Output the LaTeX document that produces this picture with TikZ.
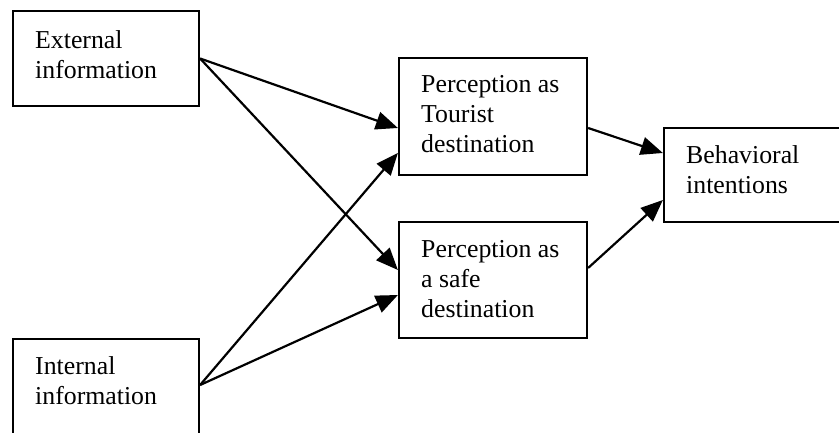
\documentclass[tikz,border=0pt]{standalone}
\usepackage{fontspec}
\setmainfont{Liberation Serif}
\usetikzlibrary{arrows.meta}
\begin{document}
\begin{tikzpicture}[x=1pt,y=-1pt,
  box/.style={draw=black, line width=2.2pt, minimum width=#1, inner sep=0pt},
  boxtext/.style={anchor=base west, align=left, inner sep=0pt,
    font=\fontsize{25.8pt}{30pt}\selectfont},
  link/.style={line width=2.2pt, -{Triangle[length=22pt,width=18pt]}}]
  \clip (0,0) rectangle (839,432);
  \fill[white] (0,0) rectangle (839,432);

  % boxes
  \node[box=186pt, minimum height=95pt]  (ext)   at (106,58.5) {};
  \node[box=186pt, minimum height=95pt]  (int)   at (106,386.5) {};
  \node[box=188pt, minimum height=117pt] (tour)  at (493,116.5) {};
  \node[box=188pt, minimum height=116pt] (safe)  at (493,280) {};
  \node[box=190pt, minimum height=94pt]  (behav) at (759,175) {};

  % labels (anchored at the baseline of their last line)
  \node[boxtext] (ext-t)   at (35,78)   {External\\information};
  \node[boxtext] (int-t)   at (35,404)  {Internal\\information};
  \node[boxtext] (tour-t)  at (421,152) {Perception as\\Tourist\\destination};
  \node[boxtext] (safe-t)  at (421,317) {Perception as\\a safe\\destination};
  \node[boxtext] (behav-t) at (686,193) {Behavioral\\intentions};

  % connectors
  \draw[link] (ext.east) -- ([yshift=-11.5pt]tour.west);
  \draw[link] (ext.east) -- ([yshift=10pt]safe.west);
  \draw[link] ([yshift=1.5pt]int.east) -- ([yshift=-36.5pt]tour.west);
  \draw[link] ([yshift=1.5pt]int.east) -- ([yshift=-15pt]safe.west);
  \draw[link] ([yshift=-11.5pt]tour.east) -- ([yshift=22pt]behav.west);
  \draw[link] ([yshift=12pt]safe.east) -- ([yshift=-25pt]behav.west);
\end{tikzpicture}
\end{document}
